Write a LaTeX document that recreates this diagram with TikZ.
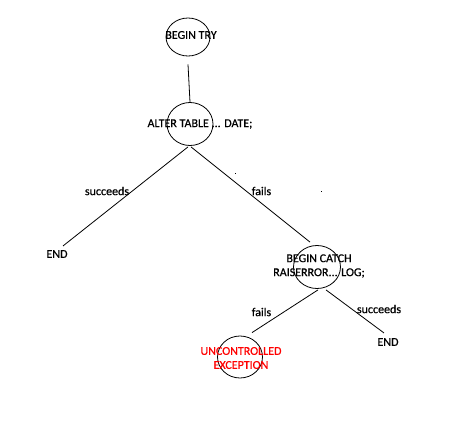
\documentclass[tikz,border=0pt]{standalone}
\usepackage{fontspec}
\setmainfont{Carlito}[FakeBold=0.6]
\usetikzlibrary{shapes.geometric}
\begin{document}
\begin{tikzpicture}[x=1pt,y=-1pt,
  ring/.style={draw,ellipse,line width=0.8pt,inner sep=0pt},
  lbl/.style={inner sep=1pt,font=\fontsize{12}{14}\selectfont,align=center},
  edge/.style={line width=0.8pt}]
\useasboundingbox[fill=white] (0,0) rectangle (459,426);
% circles
\node[ring,minimum width=44pt,minimum height=38pt] (c1) at (188,37) {};
\node[ring,minimum width=46pt,minimum height=43pt] (c2) at (190,124) {};
\node[ring,minimum width=47pt,minimum height=43pt] (c3) at (317,267) {};
\node[ring,minimum width=45pt,minimum height=42pt] (c4) at (240,357) {};
% texts
\node[lbl] (t1) at (191,35) {BEGIN TRY};
\node[lbl] (t2) at (200,124) {ALTER TABLE ... DATE;};
\node[lbl] (t3) at (319,266) {BEGIN CATCH\\RAISERROR... LOG;};
\node[lbl,text=red] (t4) at (241,358) {UNCONTROLLED\\EXCEPTION};
\node[lbl] (end1) at (57,254) {END};
\node[lbl] (end2) at (388,342) {END};
\node[lbl] (s1) at (107,191) {succeeds};
\node[lbl] (f1) at (261.5,191) {fails};
\node[lbl] (f2) at (261.5,312) {fails};
\node[lbl] (s2) at (379,309) {succeeds};
% connectors
\draw[edge] ([yshift=-8pt]c1.south) -- (c2.north);
\draw[edge] ([xshift=-2pt,yshift=-1pt]c2.south) -- ([xshift=6pt,yshift=3pt]end1.north);
\draw[edge] ([xshift=1pt,yshift=-1pt]c2.south) -- ([xshift=-7pt,yshift=3pt]c3.north);
\draw[edge] ([xshift=1pt,yshift=-1pt]c3.south) -- ([xshift=12pt,yshift=3pt]c4.north);
\draw[edge] ([xshift=9pt,yshift=-1pt]c3.south) -- ([xshift=-4pt,yshift=4pt]end2.north);
% stray dots
\fill (234.5,172.5) rectangle (235.7,173.7);
\fill (320.5,190.5) rectangle (321.7,191.7);
\end{tikzpicture}
\end{document}
